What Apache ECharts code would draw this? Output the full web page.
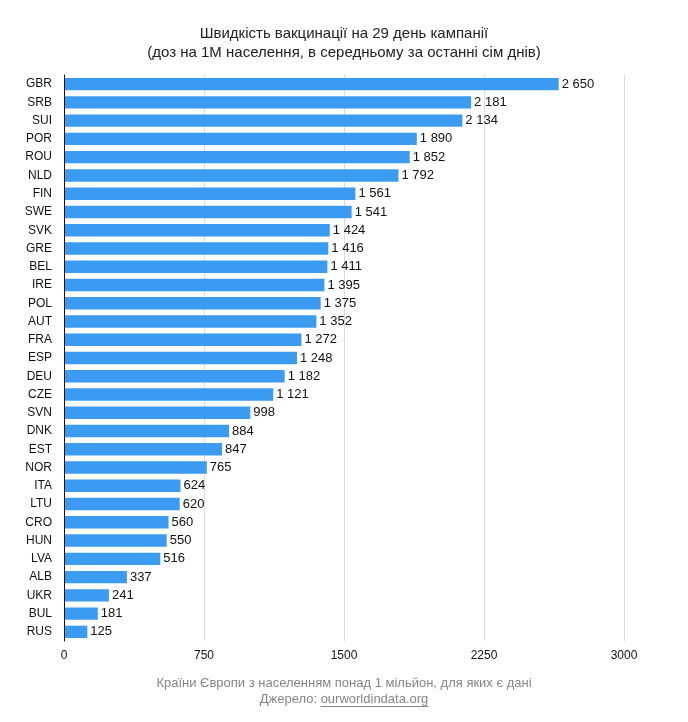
<!DOCTYPE html>
<html>
<head>
<meta charset="utf-8">
<script src="https://cdn.jsdelivr.net/npm/echarts@6/dist/echarts.min.js"></script>
<style>
html,body{margin:0;padding:0;background:#fff;}
#chart{width:688px;height:722px;}
</style>
</head>
<body>
<div id="chart"></div>
<script>
const categories = ['GBR','SRB','SUI','POR','ROU','NLD','FIN','SWE','SVK','GRE','BEL','IRE','POL','AUT','FRA','ESP','DEU','CZE','SVN','DNK','EST','NOR','ITA','LTU','CRO','HUN','LVA','ALB','UKR','BUL','RUS'];
const values = [2650,2181,2134,1890,1852,1792,1561,1541,1424,1416,1411,1395,1375,1352,1272,1248,1182,1121,998,884,847,765,624,620,560,550,516,337,241,181,125];
const xTicks = [0,750,1500,2250,3000];
const titleLines = ['Швидкість вакцинації на 29 день кампанії','(доз на 1М населення, в середньому за останні сім днів)'];
const footerText = 'Країни Європи з населенням понад 1 мільйон, для яких є дані';
const sourcePrefix = 'Джерело: ';
const sourceLink = 'ourworldindata.org';

const FONT = '"Liberation Sans", Arial, sans-serif';
const chart = echarts.init(document.getElementById('chart'), null, {renderer:'canvas'});

const ctx = document.createElement('canvas').getContext('2d');
ctx.font = '13px ' + FONT;
const wPre = ctx.measureText(sourcePrefix).width;
const wLink = ctx.measureText(sourceLink).width;
const total = wPre + wLink;
const x0 = 344 - total/2;

function fmt(v){ return String(v).replace(/\B(?=(\d{3})+(?!\d))/g, ' '); }

chart.setOption({
  animation:false,
  backgroundColor:'#fff',
  title:{
    text: titleLines.join('\n'),
    left:'center', top:24, padding:0,
    textStyle:{fontFamily:FONT, fontSize:15, fontWeight:'normal', color:'#222', lineHeight:19}
  },
  grid:{left:64, right:64, top:75, bottom:81, containLabel:false},
  xAxis:{
    type:'value', min:0, max:3000, interval:750,
    axisLine:{show:false}, axisTick:{show:false},
    splitLine:{show:true, lineStyle:{color:'#dcdcdc', width:1}},
    axisLabel:{fontFamily:FONT, fontSize:12, color:'#111', margin:9,
      formatter:function(v){ return xTicks.indexOf(v)>=0 ? String(v) : ''; }}
  },
  yAxis:{
    type:'category', data:categories, inverse:true, z:5,
    axisLine:{show:true, lineStyle:{color:'#111', width:1}},
    axisTick:{show:false},
    axisLabel:{fontFamily:FONT, fontSize:12, color:'#111', margin:12}
  },
  series:[{
    type:'bar', data:values, barCategoryGap:'32%',
    itemStyle:{color:'#3b9bf1'},
    label:{show:true, position:'right', distance:3, fontFamily:FONT, fontSize:13, color:'#111',
      formatter:function(p){ return fmt(p.value); }}
  }],
  graphic:[
    {type:'text', left:'center', top:677, style:{text:footerText, font:'13px '+FONT, fill:'#858585'}},
    {type:'text', left:x0, top:693, style:{text:sourcePrefix, font:'13px '+FONT, fill:'#858585'}},
    {type:'text', left:x0+wPre, top:693, style:{text:sourceLink, font:'13px '+FONT, fill:'#858585'}},
    {type:'line', shape:{x1:x0+wPre, y1:706.5, x2:x0+wPre+wLink, y2:706.5}, style:{stroke:'#858585', lineWidth:1}}
  ]
});
</script>
</body>
</html>
